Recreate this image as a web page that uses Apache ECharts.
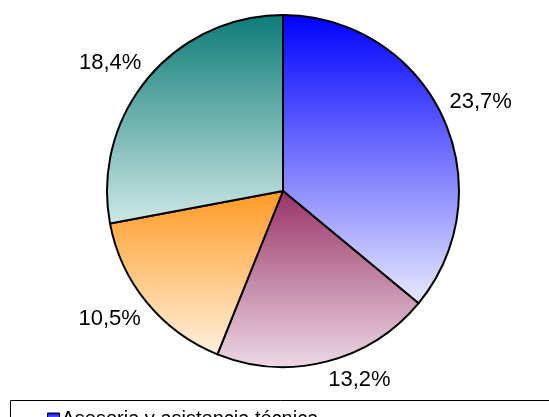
<!DOCTYPE html>
<html>
<head>
<meta charset="utf-8">
<script src="https://cdn.jsdelivr.net/npm/echarts@6/dist/echarts.min.js"></script>
<style>html,body{margin:0;padding:0;background:#fff}#c{width:549px;height:417px}</style>
</head>
<body>
<div id="c"></div>
<script>
var categories = ['Asesoria y asistencia técnica', 'Categoría 2', 'Categoría 3', 'Categoría 4'];
var values = [23.7, 13.2, 10.5, 18.4];
var labels = ['23,7%', '13,2%', '10,5%', '18,4%'];
var legendItems = ['Asesoria y asistencia técnica'];
var topColors = ['#0000FF', '#993366', '#FF9922', '#0C7C78'];
var bottomColors = ['#EAEAFF', '#ECD9E4', '#FFF1DE', '#CFE8E6'];

var CX = 283, CY = 191, R = 176, LABEL_R = 184;

function grad(i) {
  return new echarts.graphic.LinearGradient(0, 0, 0, 1, [
    {offset: 0, color: topColors[i]},
    {offset: 1, color: bottomColors[i]}
  ]);
}

var total = values.reduce(function (a, b) { return a + b; }, 0);
function midAngle(i) {
  var before = 0;
  for (var k = 0; k < i; k++) before += values[k];
  return (before + values[i] / 2) / total * Math.PI * 2; // from top, clockwise
}

var pieData = categories.map(function (n, i) {
  return {name: n, value: values[i], itemStyle: {color: grad(i)}};
});

var chart = echarts.init(document.getElementById('c'), null, {renderer: 'canvas'});
chart.setOption({
  animation: false,
  textStyle: {fontFamily: 'Liberation Sans, Arial, sans-serif'},
  legend: {
    data: legendItems,
    left: 42, top: 404,
    orient: 'vertical',
    itemWidth: 12, itemHeight: 12, itemGap: 4,
    icon: 'rect',
    itemStyle: {borderColor: '#000', borderWidth: 1},
    textStyle: {fontSize: 20, color: '#000', fontFamily: 'Liberation Sans, Arial, sans-serif', padding: [0,0,0,-3]}
  },
  graphic: [{
    type: 'rect', left: 8, top: 398,
    shape: {width: 560, height: 60},
    style: {fill: 'none', stroke: '#000', lineWidth: 1}
  }],
  series: [{
    type: 'pie',
    center: [CX, CY],
    radius: [0, R],
    startAngle: 90,
    clockwise: true,
    silent: true,
    data: pieData,
    itemStyle: {borderColor: '#000', borderWidth: 2},
    label: {
      show: true, position: 'outside',
      overflow: 'none',
      formatter: function (p) { return labels[p.dataIndex]; },
      fontSize: 22, color: '#000', lineHeight: 22,
      fontFamily: 'Liberation Sans, Arial, sans-serif'
    },
    labelLine: {show: false},
    labelLayout: function (p) {
      var a = midAngle(p.dataIndex);
      var dx = Math.sin(a), dy = -Math.cos(a);
      return {
        x: CX + LABEL_R * dx,
        y: CY + LABEL_R * dy,
        align: dx >= 0 ? 'left' : 'right',
        verticalAlign: dy >= 0 ? 'top' : 'bottom',
        width: 120
      };
    }
  }]
});
</script>
</body>
</html>
